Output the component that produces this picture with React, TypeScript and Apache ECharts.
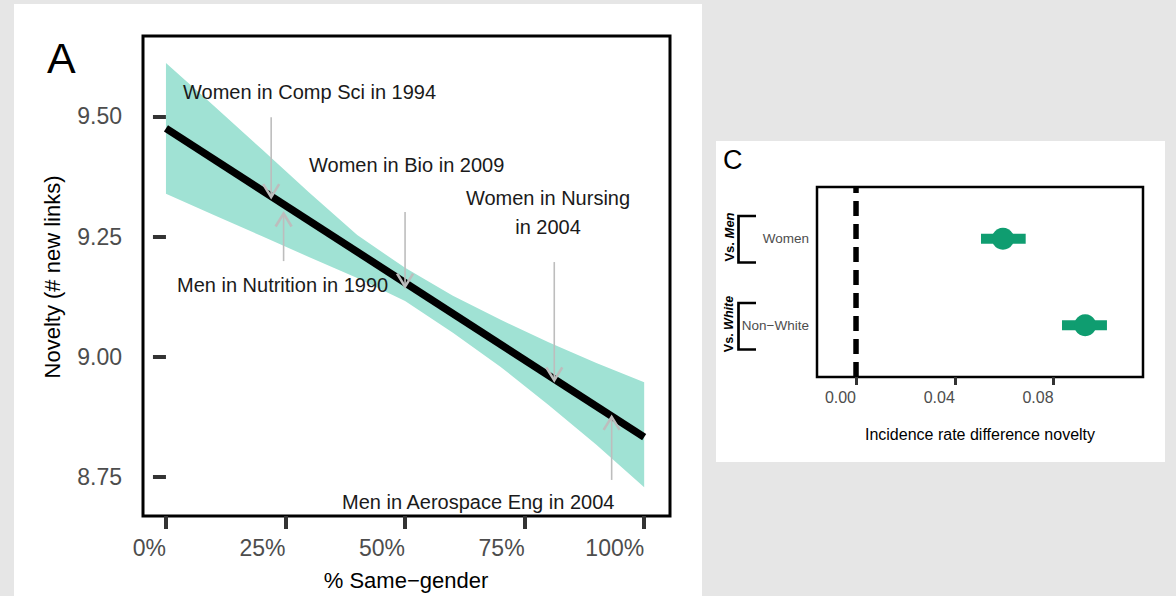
import React, { useEffect, useRef } from "react";
import * as echarts from "echarts";

// ---------- Panel A data ----------
const xTicksA = [0, 25, 50, 75, 100];
const yTicksA = [8.75, 9.0, 9.25, 9.5];
const bandX = [0, 10, 20, 30, 40, 50, 60, 70, 80, 90, 100];
const bandUpper = [9.611, 9.522, 9.432, 9.341, 9.253, 9.185, 9.127, 9.077, 9.03, 8.987, 8.947];
const bandLower = [9.339, 9.295, 9.251, 9.207, 9.164, 9.116, 9.05, 8.979, 8.9, 8.817, 8.729];
const fitX = [0, 100];
const fitY = [9.475, 8.833];
// annotation arrows: x (%), start value, tip value
const arrowX = [22.0, 24.6, 50.0, 81.2, 93.2];
const arrowFrom = [9.498, 9.199, 9.301, 9.197, 8.744];
const arrowTo = [9.332, 9.298, 9.146, 8.951, 8.875];
const annotationTexts = [
  "Women in Comp Sci in 1994",
  "Men in Nutrition in 1990",
  "Women in Bio in 2009",
  "Women in Nursing\nin 2004",
  "Men in Aerospace Eng in 2004",
];

// ---------- Panel C data ----------
const groupNames = ["Non\u2212White", "Women"]; // y = 1, 2
const groupPos = [1, 2];
const estimates = [0.0928, 0.0595];
const ciLow = [0.0834, 0.0506];
const ciHigh = [0.1016, 0.0687];
const xTicksC = [0, 0.04, 0.08];

const FONT = "'Liberation Sans', Arial, Helvetica, sans-serif";
const GREEN = "#0f9d70";
const TEAL = "#a0e2d4";
const ARROW = "#bdbdbd";
const TICKTEXT = "#4d4d4d";

export default function App() {
  const ref = useRef<HTMLDivElement>(null);

  useEffect(() => {
    if (!ref.current) return;
    const chart = echarts.init(ref.current, undefined, { renderer: "svg" });

    const annPos = [
      { x: 183, y: 92, align: "left" },
      { x: 177, y: 285, align: "left" },
      { x: 309, y: 165, align: "left" },
      { x: 548, y: 212.5, align: "center" },
      { x: 342, y: 502, align: "left" },
    ];

    const option: any = {
      animation: false,
      backgroundColor: "#e6e6e6",
      grid: [
        { left: 143, top: 36, width: 527, height: 480, show: true, borderColor: "#000", borderWidth: 3, backgroundColor: "transparent" },
        { left: 817, top: 187, width: 326, height: 190, show: true, borderColor: "#000", borderWidth: 2.5, backgroundColor: "transparent" },
      ],
      xAxis: [
        {
          type: "value", gridIndex: 0, min: -4.8, max: 105.4,
          axisLine: { show: false }, splitLine: { show: false },
          axisTick: { show: true, inside: false, length: 13, customValues: xTicksA, lineStyle: { color: "#333", width: 4 } },
          axisLabel: { customValues: xTicksA, formatter: (v: number) => v + "%", align: "right", margin: 20, fontSize: 23, color: TICKTEXT, fontFamily: FONT },
        },
        {
          type: "value", gridIndex: 1, min: -0.0158, max: 0.1162,
          axisLine: { show: false }, splitLine: { show: false },
          axisTick: { show: true, inside: false, length: 8, customValues: xTicksC, lineStyle: { color: "#333", width: 3 } },
          axisLabel: { customValues: xTicksC, formatter: (v: number) => v.toFixed(2), align: "right", margin: 12, fontSize: 16, color: TICKTEXT, fontFamily: FONT },
        },
      ],
      yAxis: [
        {
          type: "value", gridIndex: 0, min: 8.669, max: 9.667,
          axisLine: { show: false }, splitLine: { show: false },
          axisTick: { show: true, inside: false, length: 13, customValues: yTicksA, lineStyle: { color: "#333", width: 4 } },
          axisLabel: { customValues: yTicksA, formatter: (v: number) => v.toFixed(2), margin: 21, fontSize: 23, color: TICKTEXT, fontFamily: FONT },
        },
        {
          type: "value", gridIndex: 1, min: 0.4, max: 2.6,
          axisLine: { show: false }, splitLine: { show: false },
          axisTick: { show: false },
          axisLabel: { customValues: groupPos, formatter: (v: number) => groupNames[groupPos.indexOf(Math.round(v))] || "", margin: 8, fontSize: 13.5, color: TICKTEXT, fontFamily: FONT },
        },
      ],
      series: [
        {
          type: "custom", xAxisIndex: 0, yAxisIndex: 0, silent: true, z: 1,
          data: bandX.map((x, i) => [x, bandLower[i], bandUpper[i]]),
          renderItem: (params: any, api: any) => {
            if (params.dataIndex !== 0) return null;
            const pts: number[][] = [];
            for (let i = 0; i < bandX.length; i++) pts.push(api.coord([bandX[i], bandUpper[i]]));
            for (let i = bandX.length - 1; i >= 0; i--) pts.push(api.coord([bandX[i], bandLower[i]]));
            return { type: "polygon", shape: { points: pts }, style: { fill: TEAL } };
          },
        },
        {
          type: "line", xAxisIndex: 0, yAxisIndex: 0, silent: true, z: 3,
          data: fitX.map((x, i) => [x, fitY[i]]),
          symbol: "none",
          lineStyle: { color: "#000", width: 7.5, cap: "butt" },
        },
        {
          type: "custom", xAxisIndex: 0, yAxisIndex: 0, silent: true, z: 5,
          data: arrowX.map((x, i) => [x, arrowFrom[i], arrowTo[i]]),
          renderItem: (params: any, api: any) => {
            const i = params.dataIndex;
            const p0 = api.coord([arrowX[i], arrowFrom[i]]);
            const p1 = api.coord([arrowX[i], arrowTo[i]]);
            const dir = p1[1] > p0[1] ? 1 : -1;
            return {
              type: "group",
              children: [
                { type: "line", shape: { x1: p0[0], y1: p0[1], x2: p1[0], y2: p1[1] }, style: { stroke: ARROW, lineWidth: 1.6 } },
                {
                  type: "polyline",
                  shape: { points: [[p1[0] - 8, p1[1] - dir * 13], [p1[0], p1[1]], [p1[0] + 8, p1[1] - dir * 13]] },
                  style: { stroke: ARROW, lineWidth: 2.6, fill: "none" },
                },
              ],
            };
          },
        },
        {
          type: "line", xAxisIndex: 1, yAxisIndex: 1, silent: true, z: 2,
          data: [[0, 0.4], [0, 2.6]],
          symbol: "none",
          lineStyle: { color: "#000", width: 5.5, type: [15, 8] },
        },
        {
          type: "custom", xAxisIndex: 1, yAxisIndex: 1, silent: true, z: 3,
          data: groupPos.map((y, i) => [ciLow[i], y, ciHigh[i]]),
          renderItem: (params: any, api: any) => {
            const i = params.dataIndex;
            const a = api.coord([ciLow[i], groupPos[i]]);
            const b = api.coord([ciHigh[i], groupPos[i]]);
            return { type: "rect", shape: { x: a[0], y: a[1] - 5, width: b[0] - a[0], height: 10 }, style: { fill: GREEN } };
          },
        },
        {
          type: "scatter", xAxisIndex: 1, yAxisIndex: 1, silent: true, z: 4,
          data: groupPos.map((y, i) => [estimates[i], y]),
          symbol: "circle", symbolSize: 22,
          itemStyle: { color: GREEN, opacity: 1 },
        },
      ],
      graphic: [
        { type: "rect", z: -10, silent: true, shape: { x: 14, y: 4, width: 688, height: 600 }, style: { fill: "#fff" } },
        { type: "rect", z: -10, silent: true, shape: { x: 716, y: 141, width: 449, height: 321 }, style: { fill: "#fff" } },
        { type: "text", x: 47, y: 58, style: { text: "A", fontSize: 43, fontFamily: FONT, fill: "#000", align: "left", verticalAlign: "middle" } },
        { type: "text", x: 723, y: 160, style: { text: "C", fontSize: 27, fontFamily: FONT, fill: "#000", align: "left", verticalAlign: "middle" } },
        { type: "text", x: 406, y: 580, style: { text: "% Same\u2212gender", fontSize: 22, fontFamily: FONT, fill: "#000", align: "center", verticalAlign: "middle" } },
        { type: "text", x: 52, y: 277, rotation: Math.PI / 2, style: { text: "Novelty (# new links)", fontSize: 22, fontFamily: FONT, fill: "#000", align: "center", verticalAlign: "middle" } },
        { type: "text", x: 980, y: 434, style: { text: "Incidence rate difference novelty", fontSize: 16, fontFamily: FONT, fill: "#000", align: "center", verticalAlign: "middle" } },
        ...annotationTexts.map((t, i) => ({
          type: "text", x: annPos[i].x, y: annPos[i].y, z: 6,
          style: { text: t, fontSize: 20, fontFamily: FONT, fill: "#1a1a1a", align: annPos[i].align, verticalAlign: "middle", lineHeight: 28.5 },
        })),
        { type: "polyline", shape: { points: [[756, 216], [738.5, 216], [738.5, 262.5], [756, 262.5]] }, style: { stroke: "#000", lineWidth: 2.7, fill: "none" } },
        { type: "polyline", shape: { points: [[756, 303], [738.5, 303], [738.5, 349.5], [756, 349.5]] }, style: { stroke: "#000", lineWidth: 2.7, fill: "none" } },
        {
          type: "text", x: 729, y: 237, rotation: Math.PI / 2,
          style: { text: "{a|Vs. }{b|Men}", align: "center", verticalAlign: "middle", fill: "#000", rich: { a: { fontSize: 13, fontWeight: "bold", fontFamily: FONT, fill: "#000" }, b: { fontSize: 13, fontWeight: "bold", fontStyle: "italic", fontFamily: FONT, fill: "#000" } } },
        },
        {
          type: "text", x: 729, y: 324, rotation: Math.PI / 2,
          style: { text: "{a|Vs. }{b|White}", align: "center", verticalAlign: "middle", fill: "#000", rich: { a: { fontSize: 12.5, fontWeight: "bold", fontFamily: FONT, fill: "#000" }, b: { fontSize: 12.5, fontWeight: "bold", fontStyle: "italic", fontFamily: FONT, fill: "#000" } } },
        },
      ],
    };

    chart.setOption(option);
    return () => chart.dispose();
  }, []);

  return <div ref={ref} style={{ position: "absolute", left: 0, top: 0, width: 1176, height: 596 }} />;
}
